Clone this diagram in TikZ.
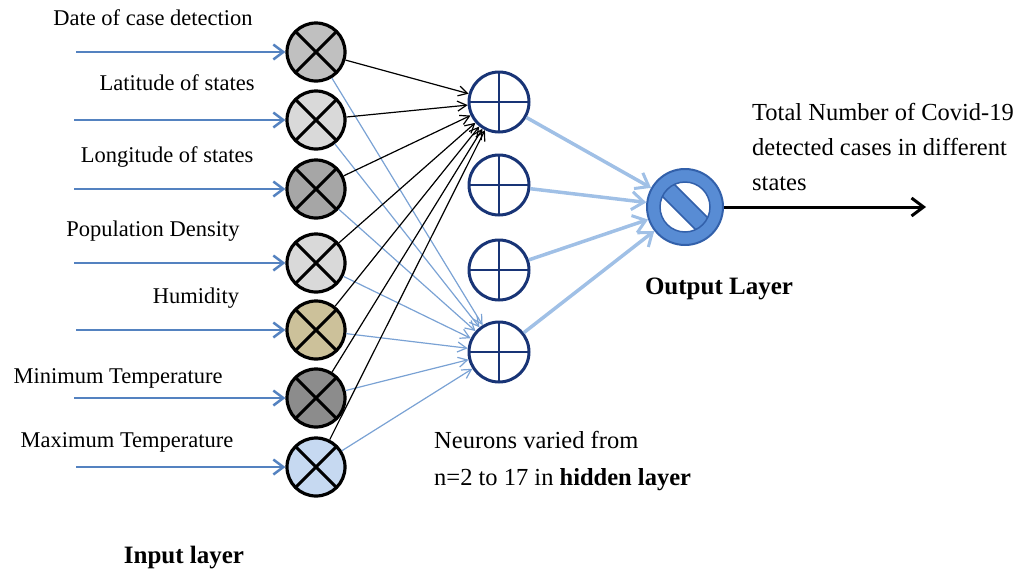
\documentclass[tikz,border=0pt]{standalone}
\usepackage{fontspec}
\setmainfont{Liberation Serif}
\usetikzlibrary{arrows.meta}
\definecolor{inarrow}{RGB}{84,130,192}
\definecolor{thinblue}{RGB}{122,162,212}
\definecolor{outarrow}{RGB}{160,192,230}
\definecolor{navy}{RGB}{24,52,118}
\definecolor{outblue}{RGB}{88,140,212}
\definecolor{outdark}{RGB}{50,96,170}
\definecolor{gA}{RGB}{192,192,192}
\definecolor{gB}{RGB}{217,217,217}
\definecolor{gC}{RGB}{166,166,166}
\definecolor{tan}{RGB}{204,193,154}
\definecolor{gD}{RGB}{140,140,140}
\definecolor{lblue}{RGB}{198,217,241}
\begin{document}
\begin{tikzpicture}[x=1pt,y=-1pt,
  lbl/.style={font=\fontsize{22.5}{27}\selectfont, inner sep=0pt},
  txt/.style={font=\fontsize{24.5}{35}\selectfont, inner sep=0pt},
  inp/.style={circle, draw=black, line width=3.2pt, minimum size=58pt, inner sep=0pt,
    path picture={\draw[line width=3pt] (path picture bounding box.north west) -- (path picture bounding box.south east)
      (path picture bounding box.south west) -- (path picture bounding box.north east);}},
  hid/.style={circle, draw=navy, line width=3pt, fill=white, minimum size=60pt, inner sep=0pt,
    path picture={\draw[navy, line width=2.7pt] (path picture bounding box.north) -- (path picture bounding box.south)
      (path picture bounding box.west) -- (path picture bounding box.east);}},
  feed/.style={inarrow, line width=2.5pt, -{Straight Barb[length=10pt,width=15pt,line width=2.5pt]}},
  toh1/.style={black, line width=1.2pt, -{Straight Barb[length=9pt,width=10pt,line width=1.2pt]}},
  toh4/.style={thinblue, line width=1.2pt, -{Straight Barb[length=9pt,width=10pt,line width=1.2pt]}},
  toout/.style={outarrow, line width=3.5pt, -{Straight Barb[length=12pt,width=18pt,line width=3pt]}},
  final/.style={black, line width=3pt, -{Straight Barb[length=12pt,width=18pt,line width=3pt]}}
]
\useasboundingbox (0,0) rectangle (1024,576);

% input nodes
\node[inp, fill=gA] (in1) at (316,52) {};
\node[inp, fill=gB] (in2) at (316,120) {};
\node[inp, fill=gC] (in3) at (316,189) {};
\node[inp, fill=gB] (in4) at (316,263) {};
\node[inp, fill=tan] (in5) at (316,330) {};
\node[inp, fill=gD] (in6) at (316,398) {};
\node[inp, fill=lblue] (in7) at (316,467) {};

% hidden nodes
\node[hid] (h1) at (499,102) {};
\node[hid] (h2) at (499,185) {};
\node[hid] (h3) at (499,270) {};
\node[hid] (h4) at (499,352) {};

% output node
\node[circle, fill=outblue, draw=outdark, line width=2pt, minimum size=76pt, inner sep=0pt] (out) at (685,207) {};
\begin{scope}[shift={(out.center)}]
  \fill[white] (0,0) circle (25pt);
  \begin{scope}
    \clip (0,0) circle (25pt);
    \filldraw[fill=outblue, draw=outdark, line width=1.5pt] (27.2,15.2) -- (15.2,27.2) -- (-27.2,-15.2) -- (-15.2,-27.2) -- cycle;
  \end{scope}
  \draw[outdark, line width=1.5pt] (0,0) circle (25pt);
\end{scope}

% input labels
\node[lbl] (l1) at (153,18) {Date of case detection};
\node[lbl] (l2) at (177,83) {Latitude of states};
\node[lbl] (l3) at (167,157) {Longitude of states};
\node[lbl] (l4) at (153,231) {Population Density};
\node[lbl] (l5) at (196,298) {Humidity};
\node[lbl] (l6) at (118,378) {Minimum Temperature};
\node[lbl] (l7) at (127,442) {Maximum Temperature};

% feed arrow starts
\coordinate (s1) at (76,52);
\coordinate (s2) at (74,120);
\coordinate (s3) at (74,189);
\coordinate (s4) at (74,263);
\coordinate (s5) at (76,330);
\coordinate (s6) at (74,398);
\coordinate (s7) at (76,467);
\foreach \i in {1,...,7} {
  \draw[feed] (s\i) -- (in\i);
}

% connections
\foreach \i in {1,...,7} {
  \draw[toh4] (in\i) -- (h4);
}
\foreach \i in {1,...,7} {
  \draw[toh1] (in\i) -- (h1);
}
\foreach \j in {1,...,4} {
  \draw[toout] (h\j) -- (out);
}

% output arrow
\coordinate (end) at (926,207);
\draw[final] (out) -- (end);

% texts
\node[txt, anchor=west, align=left] (res) at (752,147) {Total Number of Covid-19\\detected cases in different\\states};
\node[txt, font=\fontsize{25}{36}\selectfont\bfseries] (ol) at (719,289) {Output Layer};
\node[txt, anchor=west, align=left, font=\fontsize{24.5}{37}\selectfont] (hl) at (434,461) {Neurons varied from\\n=2 to 17 in \textbf{hidden layer}};
\node[txt, font=\fontsize{25}{36}\selectfont\bfseries] (il) at (184,558) {Input layer};
\end{tikzpicture}
\end{document}
